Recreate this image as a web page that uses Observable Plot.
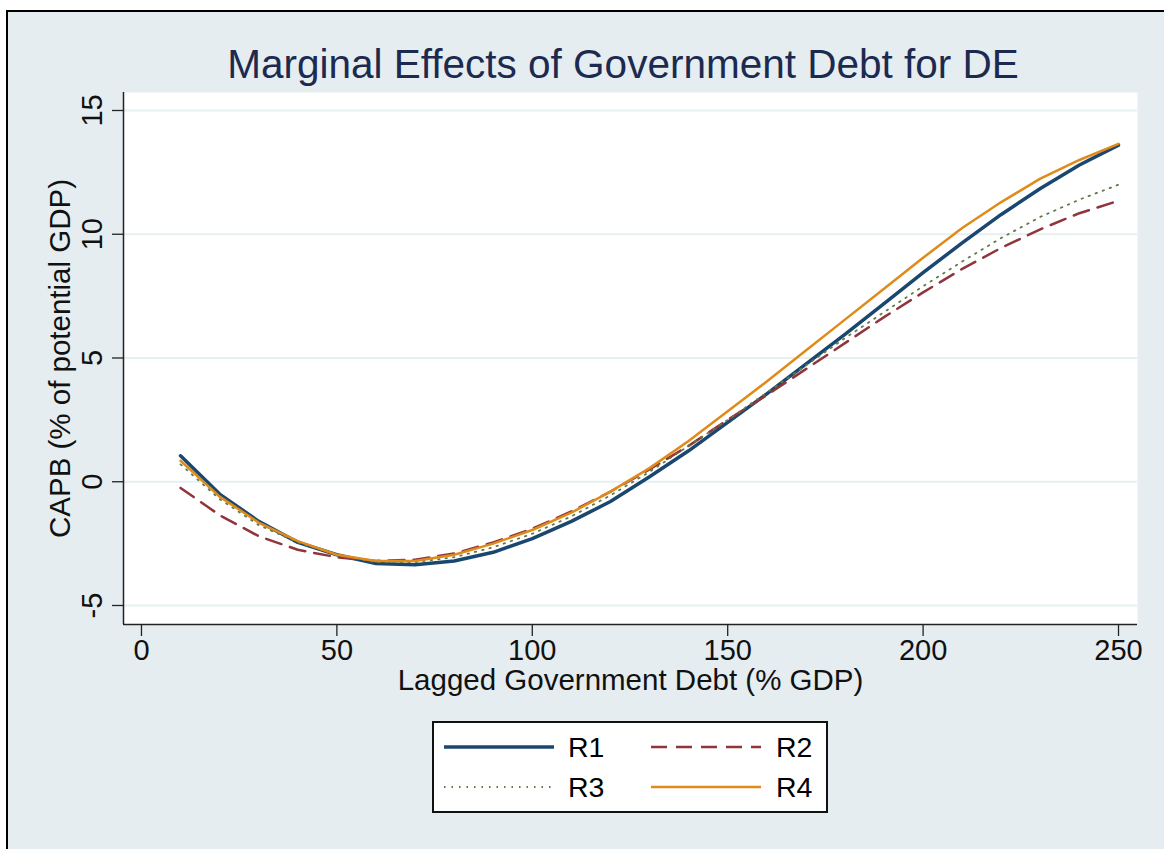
<!DOCTYPE html>
<html>
<head>
<meta charset="utf-8">
<script src="https://cdn.jsdelivr.net/npm/d3@7"></script>
<script src="https://cdn.jsdelivr.net/npm/@observablehq/plot@0.6"></script>
<style>
  html, body { margin: 0; padding: 0; background: #ffffff; width: 1164px; height: 849px; overflow: hidden; }
  body { position: relative; font-family: "Liberation Sans", Arial, sans-serif; }
  #frame { position: absolute; left: 6px; top: 10px; width: 1200px; height: 900px; border: 2px solid #000; background: #e5edf0; }
  #title { position: absolute; left: 123px; width: 1000px; top: 40px; text-align: center; font-size: 40.5px; line-height: 48px; color: #1c2a50; white-space: nowrap; }
  #chart { position: absolute; left: 0; top: 84px; }
  #legend { position: absolute; left: 432px; top: 721px; width: 392px; height: 88px; border: 2px solid #111; background: #fff; }
  .lg { position: absolute; font-size: 28.5px; line-height: 32px; color: #000; }
  .ls { position: absolute; }
</style>
</head>
<body>
<div id="frame"></div>
<div id="title">Marginal Effects of Government Debt for DE</div>
<div id="chart"></div>
<div id="legend"></div>
<script>
const debt = [10, 20, 30, 40, 50, 60, 70, 80, 90, 100, 110, 120, 130, 140, 150, 160, 170, 180, 190, 200, 210, 220, 230, 240, 250];
const r1 = [1.05, -0.5, -1.6, -2.45, -2.95, -3.3, -3.35, -3.2, -2.85, -2.3, -1.6, -0.8, 0.2, 1.25, 2.4, 3.55, 4.75, 5.95, 7.2, 8.45, 9.65, 10.8, 11.85, 12.8, 13.6];
const r2 = [-0.25, -1.35, -2.2, -2.75, -3.05, -3.2, -3.15, -2.9, -2.45, -1.9, -1.2, -0.4, 0.5, 1.45, 2.5, 3.5, 4.55, 5.6, 6.65, 7.65, 8.6, 9.45, 10.2, 10.85, 11.35];
const r3 = [0.7, -0.7, -1.75, -2.45, -2.95, -3.25, -3.25, -3.05, -2.65, -2.1, -1.4, -0.55, 0.4, 1.45, 2.5, 3.6, 4.7, 5.8, 6.85, 7.9, 8.9, 9.85, 10.7, 11.4, 12.0];
const r4 = [0.85, -0.6, -1.65, -2.4, -2.95, -3.2, -3.2, -2.95, -2.5, -1.95, -1.25, -0.4, 0.55, 1.65, 2.85, 4.05, 5.3, 6.55, 7.8, 9.05, 10.25, 11.3, 12.25, 13.0, 13.65];
const seriesNames = ["R1", "R2", "R3", "R4"];
const xTicks = [0, 50, 100, 150, 200, 250];
const yTicks = [-5, 0, 5, 10, 15];

const styles = {
  R1: {stroke: "#1a476f", strokeWidth: 3.5},
  R2: {stroke: "#90353b", strokeWidth: 2.5, strokeDasharray: "16,9"},
  R3: {stroke: "#5f7a45", strokeWidth: 1.8, strokeDasharray: "1.5,6"},
  R4: {stroke: "#e08a1a", strokeWidth: 2.5}
};
const values = {R1: r1, R2: r2, R3: r3, R4: r4};
const rows = seriesNames.flatMap(s => debt.map((d, i) => ({s, x: d, y: values[s][i]})));

const xDom = [-4.6, 254.86];
const yDom = [-5.768, 15.727];
const font = "'Liberation Sans', Arial, sans-serif";

const chart = Plot.plot({
  width: 1164, height: 626,
  marginLeft: 123, marginRight: 27, marginTop: 8, marginBottom: 86,
  style: {background: "transparent", fontFamily: font, overflow: "visible", color: "#000"},
  x: {domain: xDom, axis: null},
  y: {domain: yDom, axis: null},
  marks: [
    Plot.frame({fill: "#ffffff", stroke: null}),
    Plot.gridY(yTicks, {stroke: "#e6eff2", strokeOpacity: 1, strokeWidth: 2}),
    Plot.axisY({ticks: yTicks, tickSize: 11, tickFormat: () => "", label: null, stroke: "#222", strokeWidth: 1.3}),
    Plot.axisX({ticks: xTicks, tickSize: 12, tickFormat: () => "", label: null, stroke: "#222", strokeWidth: 1.3}),
    Plot.ruleX([xDom[0]], {stroke: "#222", strokeWidth: 1.5}),
    Plot.ruleY([yDom[0]], {stroke: "#222", strokeWidth: 1.5}),
    Plot.text(yTicks, {y: d => d, text: d => String(d), frameAnchor: "left", textAnchor: "middle", dx: -31, rotate: -90, fontSize: 29, fill: "#111"}),
    Plot.text(xTicks, {x: d => d, text: d => String(d), frameAnchor: "bottom", dy: 35, fontSize: 29, fill: "#111"}),
    Plot.text(["Lagged Government Debt (% GDP)"], {text: d => d, frameAnchor: "bottom", dy: 65, fontSize: 29.5, fill: "#111"}),
    Plot.text(["CAPB (% of potential GDP)"], {text: d => d, frameAnchor: "left", textAnchor: "middle", dx: -63, rotate: -90, fontSize: 29.5, fill: "#111"}),
    ...seriesNames.map(s => Plot.line(rows.filter(r => r.s === s), {x: "x", y: "y", ...styles[s], strokeLinejoin: "round"}))
  ]
});
document.getElementById("chart").appendChild(chart);

// legend
const legend = document.getElementById("legend");
const entries = [
  {s: "R1", lx: 9, ly: 24, tx: 134},
  {s: "R2", lx: 216, ly: 24, tx: 342},
  {s: "R3", lx: 9, ly: 64, tx: 134},
  {s: "R4", lx: 216, ly: 64, tx: 342}
];
for (const e of entries) {
  const st = styles[e.s];
  const svg = d3.create("svg").attr("class", "ls").attr("width", 112).attr("height", 10)
    .style("left", e.lx + "px").style("top", (e.ly - 5) + "px");
  svg.append("line").attr("x1", 1).attr("x2", 111).attr("y1", 5).attr("y2", 5)
    .attr("stroke", st.stroke).attr("stroke-width", st.strokeWidth)
    .attr("stroke-dasharray", st.strokeDasharray || null);
  legend.appendChild(svg.node());
  const t = document.createElement("div");
  t.className = "lg";
  t.style.left = e.tx + "px";
  t.style.top = (e.ly - 16) + "px";
  t.textContent = e.s;
  legend.appendChild(t);
}
</script>
</body>
</html>
